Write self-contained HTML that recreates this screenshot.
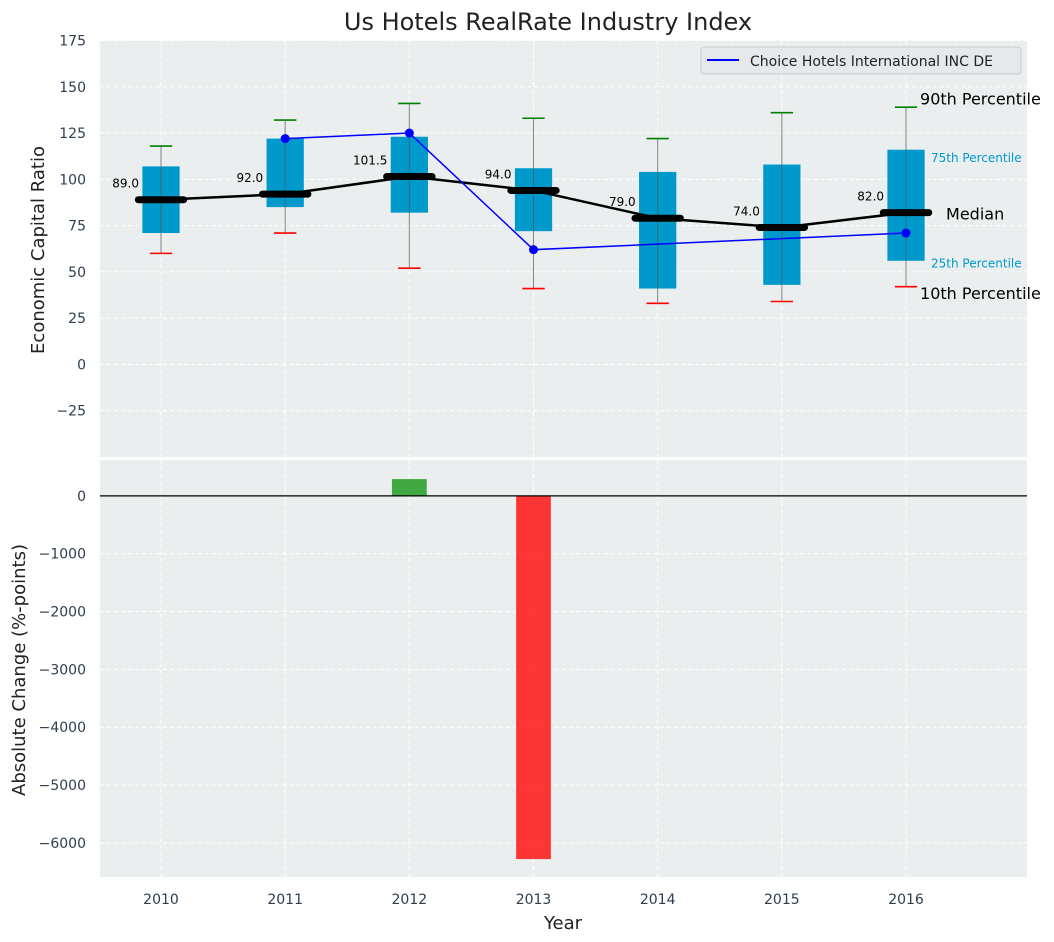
<!DOCTYPE html>
<html><head><meta charset="utf-8"><style>
body{margin:0;background:#fff;}
svg{display:block;font-family:"DejaVu Sans","Liberation Sans",sans-serif;}
</style></head><body>
<svg id="c" width="1054" height="942" xmlns="http://www.w3.org/2000/svg"></svg>
<script>
const years=["2010","2011","2012","2013","2014","2015","2016"];
const p10=[60,71,52,41,33,34,42];
const q1=[71,85,82,72,41,43,56];
const med=[89,92,101.5,94,79,74,82];
const q3=[107,122,123,106,104,108,116];
const p90=[118,132,141,133,122,136,139];
const companyIdx=[1,2,3,6];
const companyVal=[122,125,62,71];
const changes=[0,0,290,-6280,0,0,0];
const topTicks=[-25,0,25,50,75,100,125,150,175];
const botTicks=[-6000,-5000,-4000,-3000,-2000,-1000,0];

const NS="http://www.w3.org/2000/svg";
const svg=document.getElementById('c');
function el(t,a,txt){const e=document.createElementNS(NS,t);for(const k in a)e.setAttribute(k,a[k]);if(txt!==undefined)e.textContent=txt;svg.appendChild(e);return e;}
const L=100,R=1027;
const U=124.17;
const x=i=>161+i*U;
const T0=40.5,T1=457;const yT=v=>T1-(v+50)/225*(T1-T0);
const B0=460,B1=877;const yB=v=>B0+(620-v)/(620+6590)*(B1-B0);

let e=el('rect',{x:L,y:T0,width:R-L,height:T1-T0,fill:'#eaeeee'});

e=el('rect',{x:L,y:B0,width:R-L,height:B1-B0,fill:'#eaeeee'});


years.forEach((y,i)=>{
 el('line',{x1:x(i),x2:x(i),y1:T0,y2:T1,stroke:'#fff','stroke-dasharray':'4,3','stroke-width':1});
 el('line',{x1:x(i),x2:x(i),y1:B0,y2:B1,stroke:'#fff','stroke-dasharray':'4,3','stroke-width':1});
 e=el('text',{x:x(i),y:904,'font-size':14,fill:'#2c3e50','text-anchor':'middle'},y);
 
});
topTicks.forEach(v=>{
 el('line',{x1:L,x2:R,y1:yT(v),y2:yT(v),stroke:'#fff','stroke-dasharray':'4,3'});
 e=el('text',{x:86,y:yT(v)+5,'font-size':14,fill:'#2c3e50','text-anchor':'end'},v<0?'\u2212'+(-v):v);
 
});
botTicks.forEach(v=>{
 el('line',{x1:L,x2:R,y1:yB(v),y2:yB(v),stroke:'#fff','stroke-dasharray':'4,3'});
 e=el('text',{x:86,y:yB(v)+5,'font-size':14,fill:'#2c3e50','text-anchor':'end'},v<0?'\u2212'+(-v):v);
 
});

const bw=U*0.3, mw=U*0.43, cw=U*0.18;
years.forEach((y,i)=>{
 const cx=x(i);
 e=el('rect',{x:cx-bw/2,y:yT(q3[i]),width:bw,height:yT(q1[i])-yT(q3[i]),fill:'#0099cc'});
 
 e=el('line',{x1:cx,x2:cx,y1:yT(p90[i]),y2:yT(p10[i]),stroke:'#555','stroke-width':1,opacity:0.7});
 
 e=el('line',{x1:cx-cw/2,x2:cx+cw/2,y1:yT(p90[i]),y2:yT(p90[i]),stroke:'green','stroke-width':1.6});
 
 e=el('line',{x1:cx-cw/2,x2:cx+cw/2,y1:yT(p10[i]),y2:yT(p10[i]),stroke:'red','stroke-width':1.6});
 
});
e=el('polyline',{points:med.map((v,i)=>x(i)+','+yT(v)).join(' '),fill:'none',stroke:'#000','stroke-width':2.5});

years.forEach((y,i)=>{
 e=el('line',{x1:x(i)-mw/2+4,x2:x(i)+mw/2-4,y1:yT(med[i]),y2:yT(med[i]),stroke:'#000','stroke-width':7,'stroke-linecap':'round'});
 
 e=el('text',{x:x(i)-22,y:yT(med[i])-12,'font-size':12,fill:'#000','text-anchor':'end'},med[i].toFixed(1));
 
});
e=el('polyline',{points:companyIdx.map((k,j)=>x(k)+','+yT(companyVal[j])).join(' '),fill:'none',stroke:'#0000ff','stroke-width':1.5});

companyIdx.forEach((k,j)=>{
 e=el('circle',{cx:x(k),cy:yT(companyVal[j]),r:4.5,fill:'#0000ff'});
 
});
const li=6,cx6=x(li);
[['90th Percentile',p90[li]+4,16,'#000',14],['75th Percentile',q3[li]-4,12,'#0099cc',25],['Median',med[li]-1,16,'#000',40],['25th Percentile',q1[li]-1,12,'#0099cc',25],['10th Percentile',p10[li]-4,16,'#000',14]].forEach(a=>{
 e=el('text',{x:cx6+a[4],y:yT(a[1])+5,'font-size':a[2],fill:a[3]},a[0]);
 
});
e=el('rect',{x:701,y:47,width:320,height:27,rx:3,fill:'#e6e9ec',stroke:'#ccc'});

el('line',{x1:707,x2:739,y1:60,y2:60,stroke:'#0000ff','stroke-width':2});
e=el('text',{x:750,y:66,'font-size':14,fill:'#222'},'Choice Hotels International INC DE');


const barW=U*0.28;
changes.forEach((v,i)=>{
 if(v===0)return;
 e=el('rect',{x:x(i)-barW/2,y:Math.min(yB(v),yB(0)),width:barW,height:Math.abs(yB(v)-yB(0)),fill:v>0?'#2ca02c':'#ff2020',opacity:0.9});
 
});
e=el('line',{x1:L,x2:R,y1:yB(0),y2:yB(0),stroke:'#000','stroke-width':1.2});


e=el('text',{x:548,y:30,'font-size':24,fill:'#222','text-anchor':'middle'},'Us Hotels RealRate Industry Index');

e=el('text',{x:563,y:929,'font-size':18,fill:'#222','text-anchor':'middle'},'Year');

e=el('text',{x:0,y:0,'font-size':18,fill:'#222','text-anchor':'middle',transform:'translate(44,250) rotate(-90)'},'Economic Capital Ratio');

e=el('text',{x:0,y:0,'font-size':18,fill:'#222','text-anchor':'middle',transform:'translate(25,670) rotate(-90)'},'Absolute Change (%-points)');

</script>
</body></html>
